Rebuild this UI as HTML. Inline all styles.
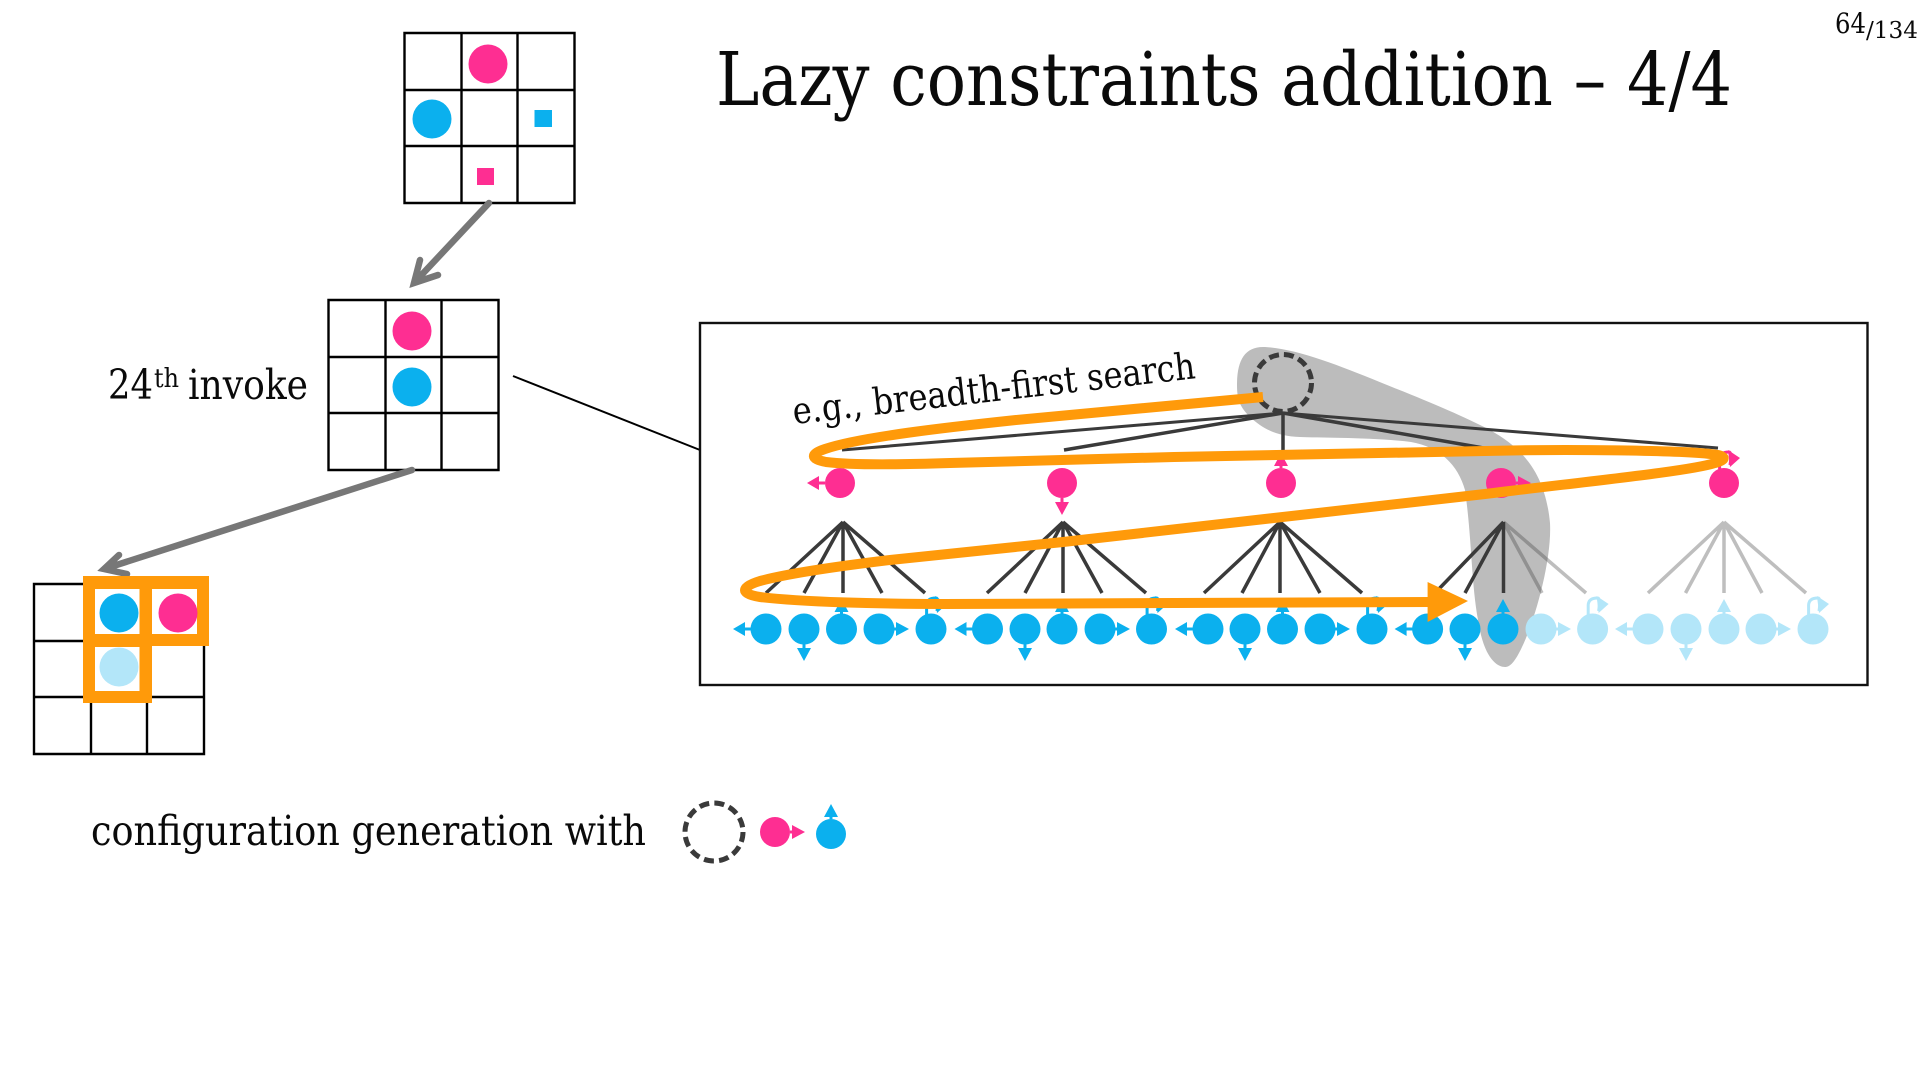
<!DOCTYPE html>
<html><head><meta charset="utf-8"><title>Lazy constraints addition – 4/4</title>
<style>html,body{margin:0;padding:0;background:#fff;overflow:hidden}svg{display:block}
text{font-family:"DejaVu Serif","Liberation Serif",serif;fill:#0a0a0a}</style></head>
<body>
<svg width="1920" height="1080" viewBox="0 0 1920 1080" xmlns="http://www.w3.org/2000/svg">
<defs>
<g id="l"><path d="M-15 0H-22" stroke="currentColor" stroke-width="3"/><path d="M-33 0L-21 -7V7Z" fill="currentColor"/></g>
<g id="d"><path d="M0 15V20" stroke="currentColor" stroke-width="3"/><path d="M0 32L-7 19H7Z" fill="currentColor"/></g>
<g id="u"><path d="M0 -15V-20" stroke="currentColor" stroke-width="3"/><path d="M0 -30L-7 -17H7Z" fill="currentColor"/></g>
<g id="r"><path d="M15 0H18" stroke="currentColor" stroke-width="3"/><path d="M30 0L17 -7V7Z" fill="currentColor"/></g>
<g id="o"><path d="M-4.4 -14V-24Q-4 -31 5 -31Q8 -31 6 -18" stroke="currentColor" stroke-width="3" fill="none"/><path d="M4 -33L16 -25L6 -16Z" fill="currentColor"/></g>
<g id="grid"><path d="M1 1H171V171H1ZM58 1V171M114 1V171M1 58H171M1 114H171" fill="none" stroke="#000" stroke-width="2.4"/></g>
</defs>

<!-- title -->
<text x="716" y="105" font-size="74" textLength="1016" lengthAdjust="spacingAndGlyphs">Lazy constraints addition – 4/4</text>
<text x="1835" y="33" font-size="28" textLength="31" lengthAdjust="spacingAndGlyphs">64</text>
<text x="1866" y="38" font-size="23" textLength="52" lengthAdjust="spacingAndGlyphs">/134</text>

<!-- grids -->
<use href="#grid" x="403.5" y="32"/>
<circle cx="488" cy="64" r="19.5" fill="#fe2e92"/>
<circle cx="432" cy="119" r="19.5" fill="#0bb0ee"/>
<rect x="534.5" y="110" width="17.5" height="17" fill="#0bb0ee"/>
<rect x="477" y="168" width="17" height="17" fill="#fe2e92"/>

<path d="M489 203L414 283M420 260L414 283L438 275" fill="none" stroke="#777" stroke-width="6.5" stroke-linejoin="miter" stroke-linecap="round"/>

<use href="#grid" x="327.5" y="299"/>
<circle cx="412" cy="331" r="19.5" fill="#fe2e92"/>
<circle cx="412" cy="387" r="19.5" fill="#0bb0ee"/>
<text x="108" y="399" font-size="41" textLength="45" lengthAdjust="spacingAndGlyphs">24</text>
<text x="154" y="387" font-size="26" textLength="25" lengthAdjust="spacingAndGlyphs">th</text>
<text x="188" y="399" font-size="41" textLength="120" lengthAdjust="spacingAndGlyphs">invoke</text>

<path d="M513 376L700 450" stroke="#000" stroke-width="2" fill="none"/>

<path d="M412 470L104 569M119 555L104 569L127 574" fill="none" stroke="#777" stroke-width="6.5" stroke-linecap="round"/>

<use href="#grid" x="33" y="583"/>
<path d="M83 576H209V646H152V703H83Z" fill="#ff9a0a"/>
<rect x="95" y="589" width="44.5" height="45" fill="#fff"/>
<rect x="152" y="589" width="45" height="45" fill="#fff"/>
<rect x="95" y="647" width="44.5" height="44" fill="#fff"/>
<circle cx="119" cy="613" r="19.5" fill="#0bb0ee"/>
<circle cx="178" cy="613" r="19.5" fill="#fe2e92"/>
<circle cx="119" cy="667" r="19.5" fill="#b3e6f9"/>

<!-- legend -->
<text x="91" y="845" font-size="41" textLength="555" lengthAdjust="spacingAndGlyphs">configuration generation with</text>
<circle cx="714" cy="832" r="29" fill="none" stroke="#3a3a3a" stroke-width="5" stroke-dasharray="10 5.2"/>
<circle cx="775" cy="832" r="15" fill="#fe2e92"/>
<use href="#r" x="775" y="832" style="color:#fe2e92"/>
<circle cx="831" cy="834" r="15" fill="#0bb0ee"/>
<use href="#u" x="831" y="834" style="color:#0bb0ee"/>

<!-- box -->
<rect x="700" y="323" width="1167.5" height="362" fill="#fff" stroke="#111" stroke-width="2.4"/>
<path d="M1237 385C1237 360 1245 346 1265 347C1300 349 1345 368 1392 387C1430 402 1465 417 1490 430C1520 447 1545 470 1550 523C1552 560 1535 620 1522 647C1515 662 1510 667 1505 667C1498 667 1484 660 1478 620C1471 580 1472 540 1465 490C1458 465 1440 447 1411 442C1370 437 1320 438 1300 437C1275 436 1262 428 1250 417C1240 407 1237 400 1237 385Z" fill="#bcbcbc"/>
<text transform="translate(794 424) rotate(-6.5)" font-size="37" textLength="405" lengthAdjust="spacingAndGlyphs">e.g., breadth-first search</text>
<circle cx="1283" cy="383" r="28.5" fill="none" stroke="#3a3a3a" stroke-width="5" stroke-dasharray="10 5"/>

<!-- tree lines -->
<g stroke="#3a3a3a" fill="none">
<path stroke-width="3" d="M1283 413L842 450M1283 413L1718 448"/>
<path stroke-width="3.5" d="M1283 413L1064 450M1283 413V450M1283 413L1495 450"/>
<path stroke-width="3.5" d="M843 522L766 593M843 522L804 593M843 522V593M843 522L882 593M843 522L925 593"/>
<path stroke-width="3.5" d="M1063 522L987 593M1063 522L1025 593M1063 522V593M1063 522L1102 593M1063 522L1146 593"/>
<path stroke-width="3.5" d="M1280 522L1204 593M1280 522L1242 593M1280 522V593M1280 522L1320 593M1280 522L1362 593"/>
<path stroke-width="3.5" d="M1503.5 522L1435 593M1503.5 522L1465 593M1503.5 522V593"/>
</g>
<g stroke="#3a3a3a" stroke-opacity=".33" stroke-width="3.5" fill="none">
<path d="M1503.5 522L1542 593M1503.5 522L1586 593"/>
<path d="M1724 522L1648 593M1724 522L1685.5 593M1724 522V593M1724 522L1762 593M1724 522L1806 593"/>
</g>

<!-- pink nodes -->
<g fill="#fe2e92" style="color:#fe2e92">
<circle cx="840" cy="483" r="15"/><use href="#l" x="840" y="483"/>
<circle cx="1062" cy="483" r="15"/><use href="#d" x="1062" y="483"/>
<circle cx="1281" cy="483" r="15"/><use href="#u" x="1281" y="483"/>
<circle cx="1501" cy="483" r="15"/><use href="#r" x="1501" y="483"/>
<circle cx="1724" cy="483" r="15"/><use href="#o" x="1724" y="483"/>
</g>

<!-- blue nodes -->
<g fill="#0bb0ee" style="color:#0bb0ee">
<circle cx="766" cy="629" r="15.5"/><use href="#l" x="766" y="629"/>
<circle cx="804" cy="629" r="15.5"/><use href="#d" x="804" y="629"/>
<circle cx="841.5" cy="629" r="15.5"/><use href="#u" x="841.5" y="629"/>
<circle cx="879" cy="629" r="15.5"/><use href="#r" x="879" y="629"/>
<circle cx="931" cy="629" r="15.5"/><use href="#o" x="931" y="629"/>
<circle cx="987.5" cy="629" r="15.5"/><use href="#l" x="987.5" y="629"/>
<circle cx="1025" cy="629" r="15.5"/><use href="#d" x="1025" y="629"/>
<circle cx="1062" cy="629" r="15.5"/><use href="#u" x="1062" y="629"/>
<circle cx="1100" cy="629" r="15.5"/><use href="#r" x="1100" y="629"/>
<circle cx="1151.5" cy="629" r="15.5"/><use href="#o" x="1151.5" y="629"/>
<circle cx="1208" cy="629" r="15.5"/><use href="#l" x="1208" y="629"/>
<circle cx="1245" cy="629" r="15.5"/><use href="#d" x="1245" y="629"/>
<circle cx="1282.5" cy="629" r="15.5"/><use href="#u" x="1282.5" y="629"/>
<circle cx="1320" cy="629" r="15.5"/><use href="#r" x="1320" y="629"/>
<circle cx="1372" cy="629" r="15.5"/><use href="#o" x="1372" y="629"/>
<circle cx="1427.6" cy="629" r="15.5"/><use href="#l" x="1427.6" y="629"/>
<circle cx="1465" cy="629" r="15.5"/><use href="#d" x="1465" y="629"/>
<circle cx="1503" cy="629" r="15.5"/><use href="#u" x="1503" y="629"/>
</g>
<g fill="#b3e6f9" style="color:#b3e6f9">
<circle cx="1541" cy="629" r="15.5"/><use href="#r" x="1541" y="629"/>
<circle cx="1592.6" cy="629" r="15.5"/><use href="#o" x="1592.6" y="629"/>
<circle cx="1648" cy="629" r="15.5"/><use href="#l" x="1648" y="629"/>
<circle cx="1686" cy="629" r="15.5"/><use href="#d" x="1686" y="629"/>
<circle cx="1724" cy="629" r="15.5"/><use href="#u" x="1724" y="629"/>
<circle cx="1761" cy="629" r="15.5"/><use href="#r" x="1761" y="629"/>
<circle cx="1813" cy="629" r="15.5"/><use href="#o" x="1813" y="629"/>
</g>

<!-- orange traversal -->
<path d="M1263 397L1016 420C950 427 860 437 825 449C810 454 810 459 826 462C850 465 890 465 950 463L1174 457L1485 451C1560 449 1690 450 1718 455C1726 457 1726 460 1715 463C1690 471 1600 480 1485 494L1063 542L890 560C840 566 790 573 760 581C740 587 740 594 760 597C800 602 880 604 945 604L1432 602" fill="none" stroke="#ff9a0a" stroke-width="10" stroke-linejoin="round"/>
<path d="M1427.6 582L1468 601L1427.6 622Z" fill="#ff9a0a"/>
</svg>
</body></html>
